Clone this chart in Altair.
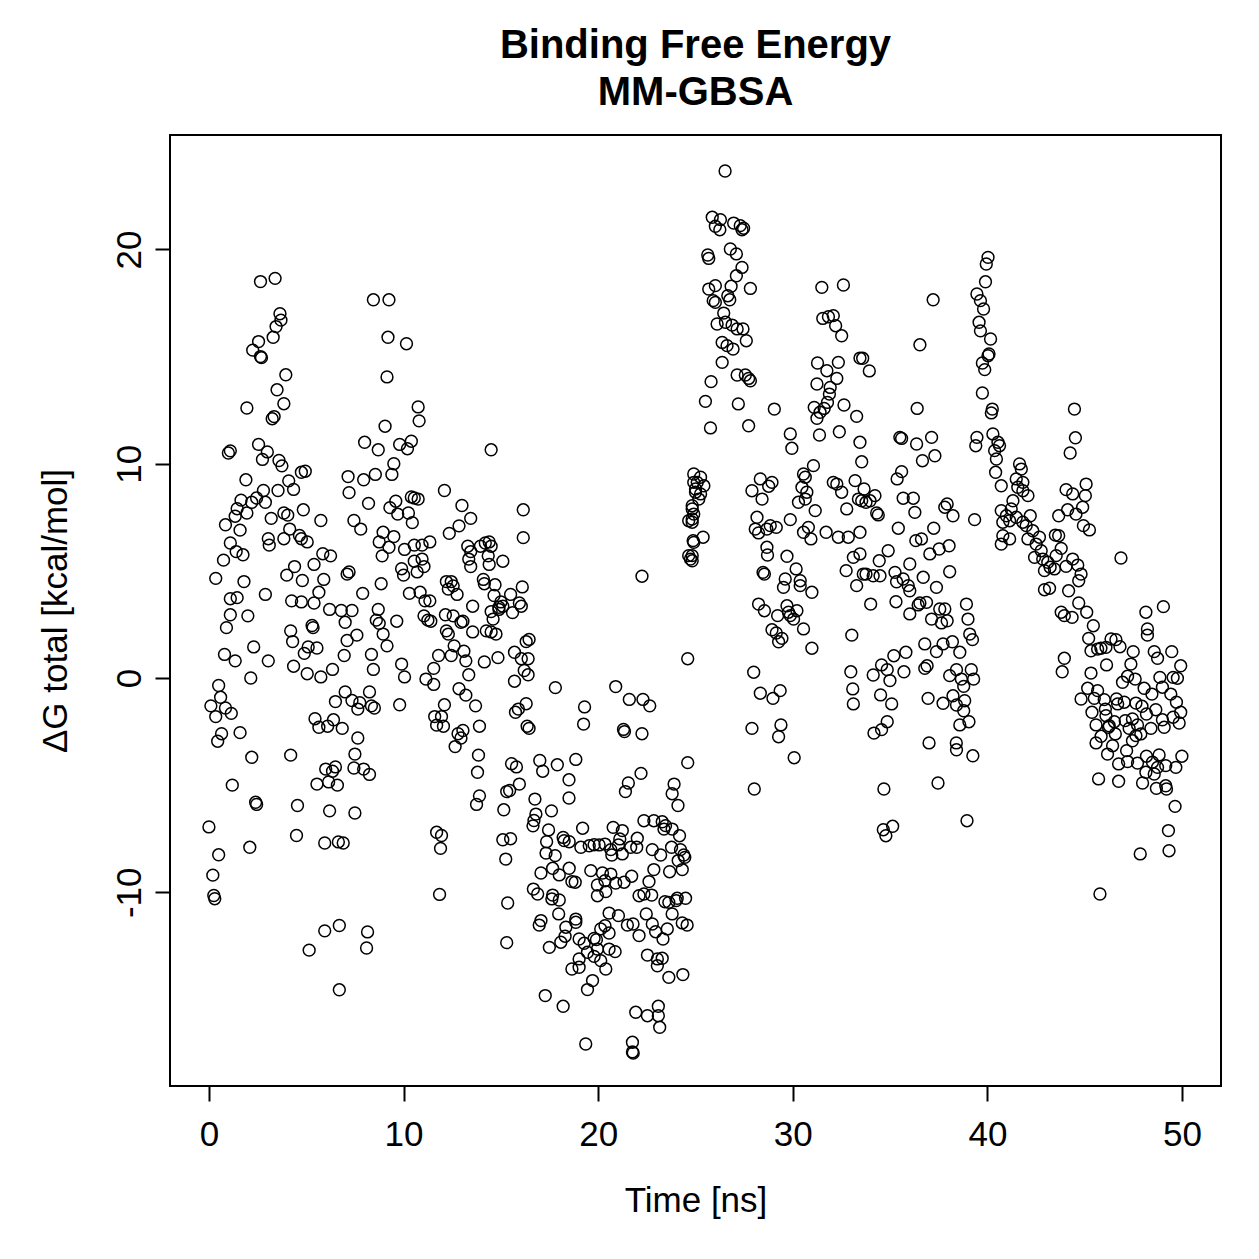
import altair as alt
import pandas as pd

FONT = "Liberation Sans"

# MM-GBSA total binding free energy per frame: [time (ns), dG total (kcal/mol)]
frames_00_05 = [
    [0.0, -6.95], [0.5, -8.25], [0.2, -9.2], [0.25, -10.15], [0.3, -10.3], [2.1, -7.9],
    [2.4, -5.8], [2.45, -5.9], [2.2, -3.7], [1.2, -5.0], [4.2, -3.6], [4.55, -5.95], [4.5, -7.35],
    [0.5, -0.35], [0.6, -0.9], [0.1, -1.3], [0.35, -1.8], [0.85, -1.4], [1.15, -1.65],
    [0.65, -2.6], [0.45, -2.95], [1.6, -2.55], [2.15, 0.0], [0.8, 1.1], [1.35, 0.8],
    [2.3, 1.45], [3.05, 0.8], [1.1, 2.95], [2.0, 2.9], [0.9, 2.35], [4.2, 2.2], [4.3, 1.7],
    [4.35, 0.55], [4.25, 3.6], [4.75, 3.55],
    [2.65, 18.5], [3.4, 18.65], [3.65, 17.0], [3.7, 16.7], [3.45, 16.4], [3.3, 15.9],
    [2.55, 15.7], [2.25, 15.3], [2.65, 15.0], [2.7, 14.95], [3.95, 14.15], [3.5, 13.45],
    [3.85, 12.8], [3.35, 12.2], [3.25, 12.1], [1.95, 12.6], [1.1, 10.6], [1.0, 10.5],
    [2.55, 10.9], [3.0, 10.55], [2.75, 10.2], [3.6, 10.15], [3.75, 9.9], [4.1, 9.2],
    [4.35, 8.8], [4.75, 9.6], [4.95, 9.65], [1.9, 9.25], [2.8, 8.75], [3.55, 8.75],
    [1.65, 8.3], [2.45, 8.4], [2.9, 8.2], [2.2, 8.2], [1.45, 7.9], [1.95, 7.7], [1.35, 7.55],
    [0.85, 7.15], [3.2, 7.45], [3.85, 7.7], [4.05, 7.6], [4.85, 7.85], [4.15, 6.95],
    [3.85, 6.5], [4.65, 6.65], [4.75, 6.5], [3.05, 6.5], [3.1, 6.2], [1.6, 6.9], [1.1, 6.3],
    [1.4, 5.9], [1.75, 5.75], [0.75, 5.5], [0.35, 4.65], [1.8, 4.5], [1.1, 3.7], [1.45, 3.75],
    [2.9, 3.9], [4.4, 5.2], [4.0, 4.8], [4.8, 4.55],
]

frames_05_10 = [
    [5.15, -12.7], [5.95, -11.8], [6.7, -11.55], [6.7, -14.55], [5.95, -7.7], [6.65, -7.65],
    [6.9, -7.7], [6.2, -6.2], [7.5, -6.3], [5.55, -4.95], [6.15, -4.85], [6.6, -5.0],
    [6.0, -4.25], [6.5, -4.15], [6.35, -4.35], [5.3, 2.45], [5.35, 2.35], [4.9, 1.15],
    [5.1, 1.45], [5.55, 1.4], [5.05, 0.2], [5.75, 0.05], [6.35, 0.4], [6.95, 1.05],
    [7.1, 1.75], [7.6, 2.0], [7.0, -0.65], [6.5, -1.1], [7.35, -1.05], [7.65, -1.45],
    [5.45, -1.9], [5.65, -2.3], [6.1, -2.25], [6.4, -1.95], [6.85, -2.35], [7.65, -2.8],
    [7.5, -3.55], [7.45, -4.2], [6.2, 3.2], [6.8, 3.15], [7.35, 3.15], [5.4, 3.5], [7.0, 2.6],
    [7.15, 9.4], [7.2, 8.65], [7.45, 7.35], [7.8, 6.95], [5.75, 7.35], [5.05, 6.35],
    [5.85, 5.8], [6.25, 5.7], [5.4, 5.3], [5.9, 4.6], [5.65, 4.0], [7.2, 4.95], [7.1, 4.85],
    [8.45, 17.65], [9.25, 17.65], [9.2, 15.9], [9.15, 14.05], [9.05, 11.75], [8.0, 11.0],
    [8.7, 10.65], [9.8, 10.9], [9.5, 10.0], [9.4, 9.5], [8.55, 9.5], [7.95, 9.25],
    [8.2, 8.15], [9.6, 8.25], [9.3, 7.95], [9.7, 7.65], [8.95, 6.8], [9.5, 6.6], [8.75, 6.35],
    [9.25, 6.1], [8.9, 5.7], [9.9, 5.1], [8.85, 4.4], [7.9, 3.95], [8.7, 3.2],
    [8.6, 2.7], [8.75, 2.55], [9.65, 2.65], [8.95, 2.05], [9.15, 1.5], [8.35, 1.1],
    [8.45, 0.4], [9.9, 0.65], [8.25, -0.65], [7.75, -1.15], [8.35, -1.3], [8.5, -1.4],
    [9.8, -1.25], [7.95, -4.25], [8.25, -4.5], [8.15, -11.85], [8.1, -12.6],
]

frames_10_16 = [
    [10.15, 15.6], [10.75, 12.65], [10.8, 12.0], [10.4, 11.05], [10.2, 10.7], [14.5, 10.65],
    [12.1, 8.75], [10.4, 8.45], [10.55, 8.4], [10.75, 8.35], [10.25, 7.7], [10.45, 7.25],
    [13.0, 8.05], [13.45, 7.45], [12.85, 7.1], [12.35, 6.75], [16.15, 7.85], [16.15, 6.55],
    [10.05, 6.0], [10.0, 4.8], [10.55, 5.45], [10.95, 5.55], [11.05, 5.2], [10.7, 4.95],
    [10.55, 6.2], [10.95, 6.2], [11.35, 6.35], [10.3, 3.95], [10.85, 4.0], [11.1, 3.6],
    [11.35, 3.6], [12.15, 2.95], [13.3, 6.15], [13.45, 5.9], [13.95, 6.15], [14.2, 6.3],
    [14.4, 6.35], [14.5, 6.15], [13.35, 5.55], [13.45, 5.2], [14.35, 5.7], [14.4, 5.3],
    [15.1, 5.45], [12.2, 4.5], [12.45, 4.5], [12.55, 4.3], [12.3, 4.15], [12.75, 3.9],
    [14.1, 4.6], [14.15, 4.4], [14.7, 4.35], [14.65, 3.85], [15.5, 3.9], [16.1, 4.25],
    [15.95, 3.5], [15.0, 3.55], [14.9, 3.3], [14.5, 3.1], [13.05, 2.65],
    [10.05, 0.05], [11.05, 2.9], [11.25, 2.7], [11.4, 2.65], [12.55, 2.9], [12.95, 2.6],
    [13.55, 3.35], [13.55, 2.15], [12.2, 2.2], [12.3, 2.05], [12.6, 1.5], [12.45, 1.05],
    [13.1, 1.25], [13.2, 0.8], [13.35, 0.15], [11.8, 1.05], [11.55, 0.45], [11.15, -0.05],
    [11.55, -0.3], [14.15, 0.75], [14.85, 0.95], [14.25, 2.2], [14.5, 2.15], [14.75, 2.05],
    [14.6, 2.75], [14.9, 3.2], [15.1, 3.35], [15.6, 3.05], [16.05, 3.35], [15.7, 1.2],
    [16.05, 0.9], [16.3, 1.7], [16.45, 1.8], [15.7, -0.15], [16.2, 0.35], [16.4, 0.15],
    [16.4, 0.9], [12.85, -0.5], [13.2, -0.8], [13.7, -1.3], [12.1, -1.25], [11.6, -1.8],
    [11.7, -2.2], [11.95, -1.8], [12.05, -2.25], [12.8, -2.6], [13.05, -2.45], [12.95, -2.8],
    [12.65, -3.2], [13.9, -2.25], [13.85, -3.6], [13.8, -4.4], [13.9, -5.5], [13.75, -5.9],
    [15.9, -1.45], [15.75, -1.6], [16.3, -1.2], [16.45, -2.35], [16.35, -2.25], [15.55, -4.0],
    [15.8, -4.15], [15.95, -4.95], [15.3, -5.3], [15.45, -5.25], [15.15, -6.15], [11.7, -7.2],
    [11.95, -7.35], [11.9, -7.95], [15.1, -7.55], [15.5, -7.5], [15.25, -8.45], [11.85, -10.1],
    [15.35, -10.5], [15.3, -12.35],
]

frames_16_25 = [
    [17.8, -0.45], [20.9, -0.4], [21.6, -1.0], [22.3, -1.0], [22.65, -1.3], [19.3, -1.35],
    [19.25, -2.15], [21.3, -2.4], [21.35, -2.5], [22.25, -2.6], [17.0, -3.85], [17.15, -4.35],
    [17.9, -4.05], [18.85, -3.8], [18.5, -4.75], [18.5, -5.6], [24.6, -3.95], [22.2, -4.45],
    [21.55, -4.9], [21.4, -5.3], [23.9, -4.95], [23.8, -5.4], [24.1, -5.95], [16.75, -5.65],
    [17.6, -6.2], [16.8, -6.35], [16.7, -6.65], [16.65, -6.9], [24.6, 0.9], [22.25, 4.75],
    [17.45, -7.09], [17.35, -7.64], [17.32, -8.17], [17.79, -8.29], [18.2, -7.44],
    [18.25, -7.59], [18.51, -7.64], [19.2, -7.01], [19.11, -7.9], [19.54, -7.83],
    [19.79, -7.78], [20.05, -7.79], [20.35, -7.75], [20.77, -6.97], [21.24, -7.12],
    [21.11, -7.51], [21.04, -7.79], [20.7, -8.26], [20.65, -8.01], [21.24, -8.21],
    [21.67, -7.9], [22.01, -7.48], [21.98, -7.9], [22.35, -6.66], [22.86, -6.66],
    [23.29, -6.71], [23.46, -6.89], [23.38, -7.05], [23.8, -7.05], [24.18, -7.36],
    [23.77, -7.9], [24.23, -8.01], [24.4, -8.26], [22.78, -8.01], [23.21, -8.26],
    [24.11, -8.52], [24.45, -8.37], [24.32, -8.94], [23.67, -9.04], [22.86, -8.94],
    [22.61, -9.5], [21.72, -9.25], [21.33, -9.53], [20.9, -9.57], [20.65, -9.15],
    [20.22, -9.1], [20.35, -9.46], [19.96, -9.66], [19.62, -8.99], [18.51, -8.88],
    [18.65, -9.5], [18.82, -9.53], [18.0, -9.19], [17.66, -8.88], [17.06, -9.1],
    [16.67, -9.85], [16.89, -10.08], [17.66, -10.13], [18.0, -10.36], [17.62, -10.31],
    [17.97, -11.01], [18.34, -11.63], [18.85, -11.25], [18.85, -11.4], [17.06, -11.32],
    [16.97, -11.53], [17.49, -12.57], [18.08, -12.33], [18.3, -12.05], [19.02, -12.18],
    [19.28, -12.38], [19.79, -12.15], [19.91, -12.21], [20.13, -11.71], [20.35, -11.56],
    [20.56, -11.9], [20.56, -10.97], [21.04, -11.09], [21.5, -11.53], [21.79, -11.48],
    [22.1, -12.02], [22.47, -11.01], [22.78, -11.48], [22.95, -11.84], [23.33, -12.18],
    [23.55, -11.71], [23.8, -11.01], [24.01, -10.39], [23.63, -10.47], [24.06, -10.28],
    [24.49, -10.28], [24.32, -11.43], [24.57, -11.53], [23.43, -10.44], [22.35, -10.08],
    [22.1, -10.16], [22.75, -10.13], [19.96, -10.16], [20.39, -9.97], [19.96, -12.65],
    [19.45, -12.8], [19.79, -12.99], [20.13, -13.19], [19.02, -13.11], [18.65, -13.58],
    [19.02, -13.5], [20.39, -13.58], [20.56, -12.65], [20.87, -12.77], [22.53, -12.93],
    [23.04, -13.11], [23.29, -13.08], [23.04, -13.43], [23.63, -13.97], [24.35, -13.84],
    [19.71, -14.12], [19.45, -14.54], [17.28, -14.82], [18.2, -15.32], [21.93, -15.6],
    [22.53, -15.76], [23.09, -15.32], [23.09, -15.76], [23.16, -16.3], [19.36, -17.08],
    [21.76, -17.0], [21.76, -17.45], [21.8, -17.5],
]

frames_25_34 = [
    [24.91, 9.52], [25.26, 9.37], [25.09, 9.13], [25.43, 8.97], [25.0, 8.82], [25.26, 8.59],
    [25.17, 8.35], [24.83, 8.04], [24.91, 7.65], [24.83, 7.42], [25.39, 6.57], [24.91, 6.33],
    [24.83, 5.71], [24.83, 5.47], [24.91, 9.13], [25.0, 8.67], [24.83, 7.89], [24.65, 7.34],
    [24.83, 7.27], [24.88, 6.41], [24.65, 5.71], [24.74, 5.55],
    [26.52, 23.66], [25.86, 21.5], [26.28, 21.39], [26.02, 21.08], [26.25, 20.92],
    [26.96, 21.23], [27.3, 21.11], [27.47, 20.99], [27.39, 20.92], [25.63, 19.74],
    [25.68, 19.58], [26.79, 20.02], [27.1, 19.79], [27.39, 19.16], [27.1, 18.77],
    [26.83, 18.28], [27.82, 18.18], [25.68, 18.15], [26.02, 18.31], [25.91, 17.61],
    [26.02, 17.53], [26.66, 17.84], [26.76, 17.65], [26.45, 17.03], [26.11, 16.52],
    [26.54, 16.6], [26.88, 16.47], [27.14, 16.29], [27.44, 16.29], [27.61, 15.74],
    [26.37, 15.66], [26.62, 15.51], [26.93, 15.35], [26.37, 14.73], [27.14, 14.14],
    [27.56, 14.14], [27.73, 13.98], [27.82, 13.87], [25.8, 13.83], [25.51, 12.91],
    [27.2, 12.79], [29.05, 12.55], [25.77, 11.67], [27.73, 11.77], [29.87, 11.39],
    [29.95, 10.72], [31.49, 18.23], [32.6, 18.34], [31.54, 16.78], [31.83, 16.86],
    [32.08, 16.91], [32.2, 16.44], [32.51, 15.97], [33.45, 14.93], [31.27, 14.7],
    [31.75, 14.34], [32.34, 14.73], [32.26, 13.98], [31.24, 13.72], [31.92, 13.56],
    [31.88, 13.25], [31.78, 12.86], [31.61, 12.58], [31.4, 12.4], [31.24, 12.12],
    [31.1, 12.63], [32.63, 12.74], [33.28, 12.21], [31.37, 11.34], [32.39, 11.49],
    [33.45, 11.0], [33.54, 10.09],
    [28.33, 9.29], [27.9, 8.74], [28.42, 8.35], [28.93, 9.13], [28.76, 8.95], [28.16, 7.5],
    [28.07, 6.95], [28.24, 6.77], [28.67, 6.95], [28.84, 7.11], [29.15, 7.03], [29.87, 7.39],
    [28.67, 6.1], [28.7, 5.74], [28.47, 4.93], [28.54, 4.85], [29.7, 5.68], [30.17, 5.09],
    [29.61, 4.62], [29.52, 4.23], [30.38, 4.54], [30.38, 4.31], [30.98, 4.0], [28.24, 3.45],
    [28.54, 3.14], [29.22, 2.91], [29.7, 3.37], [30.21, 3.14], [29.87, 2.91], [30.55, 9.52],
    [31.06, 9.91], [30.64, 9.37], [30.47, 8.9], [30.72, 8.67], [30.29, 8.2], [30.64, 8.35],
    [31.15, 7.81], [30.55, 6.8], [30.8, 7.03], [30.93, 6.49], [31.71, 6.8], [32.26, 9.05],
    [32.08, 9.13], [32.51, 8.67], [32.77, 7.89], [33.2, 9.21], [33.37, 8.35], [33.54, 8.27],
    [32.34, 6.57], [32.85, 6.57], [33.45, 6.8], [32.74, 5.01], [33.28, 4.31], [33.11, 5.63],
    [33.45, 5.79], [33.62, 4.85],
    [29.78, 3.07], [30.04, 2.75], [30.55, 2.29], [28.93, 2.25], [29.15, 2.1], [29.44, 1.85],
    [29.27, 1.69], [30.98, 1.39], [33.03, 2.0], [27.99, 0.27], [28.33, -0.71], [28.98, -0.95],
    [29.35, -0.59], [32.98, 0.29], [33.08, -0.51], [33.11, -1.21], [27.9, -2.35],
    [29.39, -2.19], [29.27, -2.74], [30.07, -3.72], [28.02, -5.18],
]

frames_34_42 = [
    [37.21, 17.65], [36.53, 15.55], [36.39, 12.58], [33.59, 14.92], [33.93, 14.33],
    [40.03, 19.63], [39.94, 19.32], [39.9, 18.49], [39.46, 17.92], [39.64, 17.61],
    [39.8, 17.22], [39.57, 16.6], [39.64, 16.2], [40.16, 15.82], [40.08, 15.12],
    [40.03, 15.04], [39.74, 14.7], [39.86, 14.39], [39.74, 13.3], [40.25, 12.55],
    [40.2, 12.37], [40.28, 11.39], [40.54, 11.0], [40.62, 10.84], [40.37, 10.61],
    [40.46, 10.22], [40.42, 9.6], [40.71, 8.97], [39.46, 11.23], [39.4, 10.84],
    [41.65, 9.99], [41.74, 9.75], [41.48, 9.29], [41.82, 9.13], [41.56, 8.9], [41.82, 8.74],
    [42.08, 8.51], [41.31, 8.27], [41.22, 7.89], [40.71, 7.81], [40.97, 7.57], [41.14, 7.34],
    [40.79, 7.27], [41.48, 7.5], [41.82, 7.27], [41.99, 7.11], [42.2, 7.57], [42.33, 6.87],
    [42.08, 6.49], [40.79, 6.64], [41.14, 6.49], [40.71, 6.25],
    [35.5, 11.23], [35.59, 11.18], [36.36, 10.92], [37.13, 11.23], [37.3, 10.37],
    [36.66, 10.14], [35.59, 9.63], [35.36, 9.29], [35.67, 8.39], [36.19, 8.39], [36.27, 7.73],
    [35.42, 6.99], [37.24, 6.99], [37.93, 8.12], [37.81, 7.97], [38.23, 7.57], [39.34, 7.39],
    [36.32, 6.41], [36.61, 6.49], [37.04, 5.79], [37.52, 6.02], [38.03, 6.17], [38.06, 4.96],
    [37.38, 4.23], [34.9, 5.94], [34.44, 5.47], [33.76, 4.85], [34.13, 4.77], [34.48, 4.77],
    [35.25, 4.93], [35.67, 4.62], [36.01, 5.32], [35.33, 4.49], [35.93, 4.31], [36.01, 4.07],
    [36.7, 4.7], [34.0, 3.45], [35.3, 3.56], [36.01, 2.99], [36.53, 3.5], [36.87, 3.53],
    [37.13, 2.75], [37.55, 3.22], [37.81, 3.22], [37.93, 2.67], [38.92, 3.45], [39.0, 2.75],
    [34.31, 7.7], [34.39, 7.61], [34.22, 8.51], [33.76, 8.2], [33.97, 8.27], [33.66, 8.82],
    [36.44, 3.41], [37.64, 2.57], [39.09, 2.05], [39.23, 1.79], [36.78, 1.59], [37.38, 1.23],
    [37.72, 1.59], [38.2, 1.69], [38.58, 1.2], [35.19, 1.04], [35.81, 1.2], [34.56, 0.61],
    [34.13, 0.14], [34.85, 0.39], [34.99, -0.12], [35.71, 0.29], [36.78, 0.45], [36.9, 0.57],
    [38.06, 0.11], [38.41, 0.39], [38.66, -0.05], [38.78, -0.39], [39.17, 0.39],
    [39.29, -0.05], [34.51, -0.79], [35.08, -1.21], [36.95, -0.95], [37.72, -1.18],
    [38.23, -0.83], [38.41, -1.26], [38.83, -1.06], [38.78, -1.53], [39.05, -2.04],
    [38.58, -2.19], [34.85, -2.04], [34.56, -2.41], [34.17, -2.57], [37.0, -3.03],
    [38.4, -3.03], [38.41, -3.35], [39.25, -3.63], [34.68, -5.18], [37.46, -4.9],
    [38.95, -6.66], [35.13, -6.92], [34.65, -7.08], [34.78, -7.36],
]

frames_42_50 = [
    [44.47, 12.55], [44.52, 11.21], [44.25, 10.5], [45.07, 9.05], [44.04, 8.79], [44.38, 8.59],
    [45.03, 8.51], [44.89, 7.97], [44.12, 7.85], [44.55, 7.65], [43.66, 7.57], [44.93, 7.11],
    [45.24, 6.91], [46.86, 5.6], [42.67, 6.57], [43.49, 6.67], [43.66, 6.64], [43.79, 6.05],
    [42.5, 6.25], [42.76, 5.94], [42.42, 5.63], [42.84, 5.55], [43.1, 5.4], [43.22, 5.17],
    [43.44, 5.09], [42.93, 5.01], [43.53, 5.71], [44.38, 5.55], [44.64, 5.27], [44.04, 5.21],
    [44.81, 4.85], [44.69, 4.54], [43.19, 4.19], [42.93, 4.12], [44.17, 4.07], [44.69, 3.5],
    [43.79, 3.07], [43.95, 2.91], [44.35, 2.83], [45.1, 3.07], [45.44, 2.44], [48.14, 3.07],
    [49.04, 3.33], [48.22, 2.29],
    [45.2, 1.85], [45.32, 1.27], [45.66, 1.35], [45.83, 1.39], [46.09, 1.43], [46.35, 1.82],
    [46.6, 1.79], [46.81, 1.46], [47.49, 1.23], [48.22, 2.0], [48.57, 1.23], [48.74, 0.92],
    [49.47, 1.23], [43.95, 0.92], [43.84, 0.29], [45.32, 0.23], [46.12, 0.61], [47.37, 0.65],
    [47.2, 0.08], [47.59, -0.05], [46.94, -0.2], [49.93, 0.57], [49.54, 0.03], [49.76, -0.01],
    [48.86, 0.03], [48.99, -0.43], [45.15, -0.48], [45.66, -0.59], [44.81, -0.98],
    [45.49, -0.95], [46.0, -1.01], [46.63, -0.98], [47.03, -1.13], [46.69, -1.21],
    [48.05, -0.48], [48.45, -0.75], [47.63, -1.17], [47.94, -1.32], [49.42, -0.75],
    [49.71, -1.13], [48.65, -1.48], [48.17, -1.68], [49.93, -1.6], [49.85, -2.1],
    [49.54, -1.83], [49.08, -2.3], [48.99, -1.95], [48.4, -2.35], [47.71, -2.19],
    [47.28, -2.35], [47.45, -1.91], [47.08, -1.99], [46.52, -2.04], [46.26, -2.23],
    [46.22, -2.3], [46.09, -1.76], [46.06, -1.45], [45.37, -1.6], [45.58, -2.19],
    [45.84, -2.72], [45.58, -3.03], [46.57, -2.61], [46.43, -3.16], [46.17, -3.55],
    [47.15, -3.39], [46.74, -4.01], [47.2, -3.9], [47.63, -2.69], [47.88, -2.61],
    [47.45, -2.93], [47.71, -3.97], [48.17, -3.65], [48.82, -3.59], [48.48, -3.93],
    [48.74, -4.17], [49.16, -4.09], [49.68, -4.17], [49.99, -3.65], [48.14, -4.4],
    [48.57, -4.48], [47.97, -4.9], [48.68, -5.15], [49.16, -5.03], [49.2, -5.18],
    [45.71, -4.71], [46.74, -4.82], [49.64, -5.99], [49.3, -7.12], [49.33, -8.06],
    [47.85, -8.21], [45.78, -10.08],
]

x_ticks = [0, 10, 20, 30, 40, 50]
y_ticks = [-10, 0, 10, 20]

frames = (frames_00_05 + frames_05_10 + frames_10_16 + frames_16_25
          + frames_25_34 + frames_34_42 + frames_42_50)
df = pd.DataFrame(frames, columns=["time_ns", "dg_total"])

x_axis = alt.Axis(
    values=x_ticks, title="Time [ns]", grid=False, domain=False,
    tickSize=15, tickWidth=2, tickColor="black",
    labelFont=FONT, labelFontSize=35, labelColor="black", labelPadding=16,
    labelExpr="datum.value + ''",
    titleFont=FONT, titleFontSize=35, titleFontWeight="normal", titleColor="black",
    titlePadding=31,
)
y_axis = alt.Axis(
    values=y_ticks, title="ΔG total [kcal/mol]", grid=False, domain=False,
    tickSize=15, tickWidth=2, tickColor="black",
    labelFont=FONT, labelFontSize=35, labelColor="black", labelPadding=8,
    labelAngle=270, labelAlign="center", labelBaseline="bottom",
    labelExpr="datum.value + ''",
    titleFont=FONT, titleFontSize=35, titleFontWeight="normal", titleColor="black",
    titlePadding=39,
)

chart = (
    alt.Chart(df)
    .mark_point(shape="circle", filled=False, color="black", size=140,
                strokeWidth=1.5, opacity=1)
    .encode(
        x=alt.X("time_ns:Q", axis=x_axis,
                scale=alt.Scale(domain=[-2, 52], nice=False, zero=False)),
        y=alt.Y("dg_total:Q", axis=y_axis,
                scale=alt.Scale(domain=[-19.04, 25.34], nice=False, zero=False)),
    )
    .properties(
        width=1051,
        height=951,
        padding={"left": 170, "top": 135, "right": 38, "bottom": 173},
        autosize=alt.AutoSizeParams(type="none"),
        background="white",
        title=alt.TitleParams(
            text=["Binding Free Energy", "MM-GBSA"],
            font=FONT, fontSize=40, fontWeight="bold", color="black",
            anchor="middle", lineHeight=47, offset=22,
        ),
    )
    .configure_view(stroke="black", strokeWidth=2)
)

chart.save("out.html", embed_options={"renderer": "svg", "actions": False})
